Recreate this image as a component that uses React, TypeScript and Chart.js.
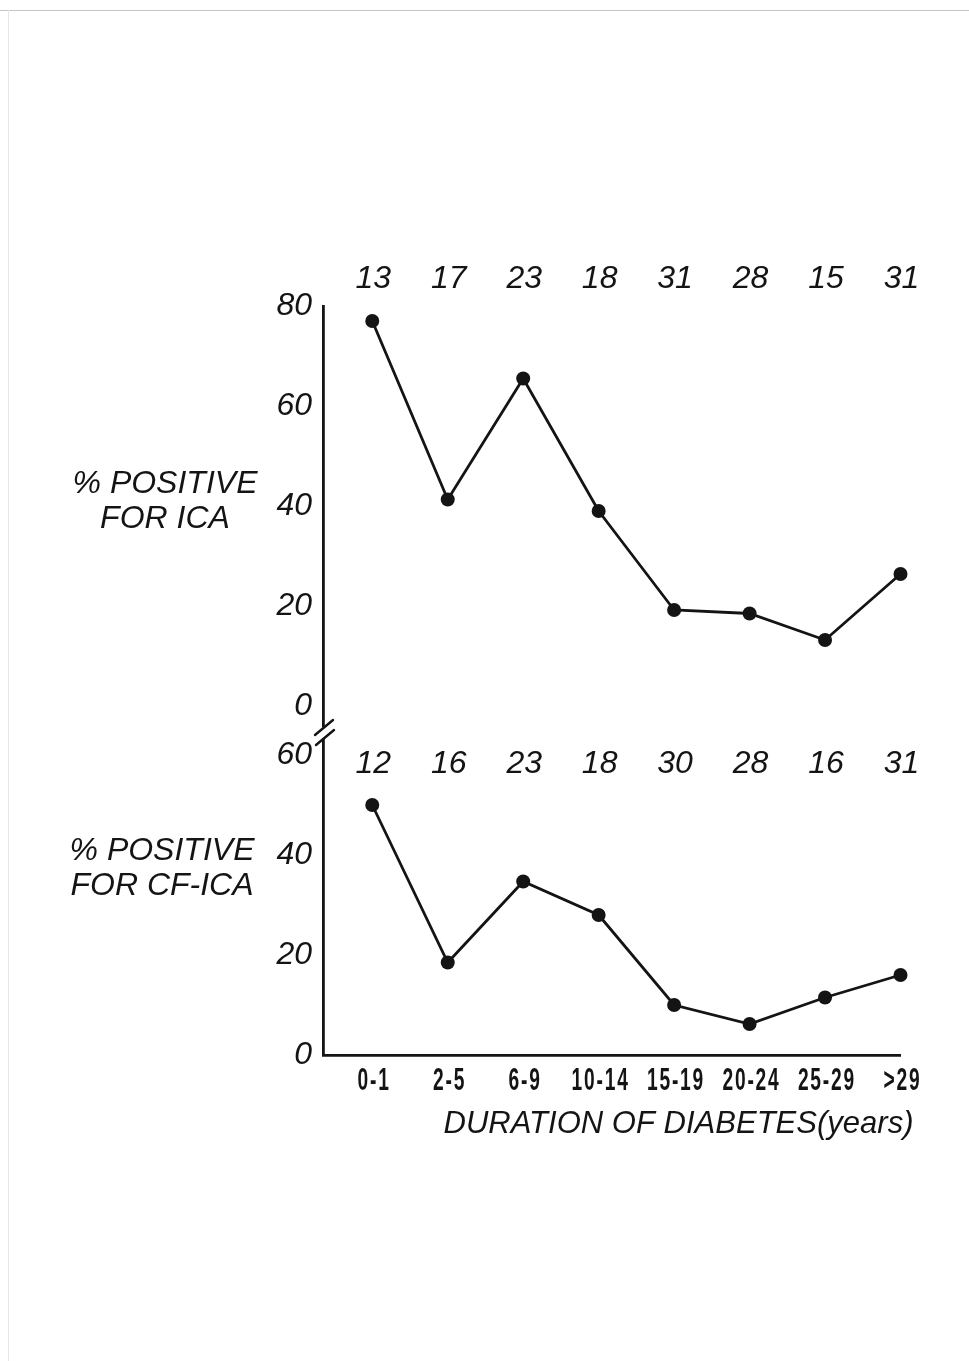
import React, { useEffect, useRef } from "react";
import { Chart, registerables } from "chart.js";

Chart.register(...registerables);

// ---------------- data ----------------
const categories = ["0-1", "2-5", "6-9", "10-14", "15-19", "20-24", "25-29", ">29"];
const icaPositive = [77, 41.3, 65.5, 39, 19.2, 18.5, 13.2, 26.4];
const cfIcaPositive = [50, 18.5, 34.7, 28, 10, 6.2, 11.5, 16];
const icaCounts = [13, 17, 23, 18, 31, 28, 15, 31];
const cfIcaCounts = [12, 16, 23, 18, 30, 28, 16, 31];
const icaTicks = [0, 20, 40, 60, 80];
const cfIcaTicks = [0, 20, 40, 60];
const icaTitle = ["% POSITIVE", "FOR ICA"];
const cfIcaTitle = ["% POSITIVE", "FOR CF-ICA"];
const xTitle = "DURATION OF DIABETES(years)";

// ---------------- style ----------------
const INK = "#141414";
const FONT = "'Liberation Sans', 'DejaVu Sans', sans-serif";
const W = 969;

type Deco = {
  counts: number[];
  countsBaselineDy: number; // relative to chartArea.top
  titleLines: string[];
  titleCenterX: number;
  titleBaselineY: number; // canvas coords of first line baseline
  titleLineGap: number;
  xLabels?: boolean;
  breakMark?: boolean;
};

function makeDecoPlugin(id: string, d: Deco) {
  return {
    id,
    afterDraw(chart: any) {
      const ctx: CanvasRenderingContext2D = chart.ctx;
      const xs = chart.scales.x;
      const area = chart.chartArea;
      ctx.save();
      ctx.fillStyle = INK;
      ctx.strokeStyle = INK;

      // sample sizes above each category
      ctx.font = `italic 32px ${FONT}`;
      ctx.textAlign = "center";
      ctx.textBaseline = "alphabetic";
      d.counts.forEach((n, i) => {
        ctx.fillText(String(n), xs.getPixelForValue(i) + 1, area.top + d.countsBaselineDy);
      });

      // horizontal y-axis title
      d.titleLines.forEach((line, k) => {
        ctx.fillText(line, d.titleCenterX, d.titleBaselineY + k * d.titleLineGap);
      });

      if (d.breakMark) {
        ctx.lineWidth = 2.4;
        ctx.lineCap = "round";
        const L = area.left;
        const B = area.bottom;
        ctx.beginPath();
        ctx.moveTo(L - 8, B + 9);
        ctx.lineTo(L + 10, B - 6);
        ctx.moveTo(L - 7, B + 19);
        ctx.lineTo(L + 11, B + 4);
        ctx.stroke();
      }

      if (d.xLabels) {
        ctx.font = `bold 32px ${FONT}`;
        ctx.textAlign = "center";
        (ctx as any).letterSpacing = "3px";
        categories.forEach((c, i) => {
          ctx.save();
          ctx.translate(xs.getPixelForValue(i) + 1, area.bottom + 35);
          ctx.scale(0.6, 1);
          ctx.fillText(c, 1.5, 0);
          ctx.restore();
        });
        (ctx as any).letterSpacing = "0px";
        ctx.font = `italic 32px ${FONT}`;
        ctx.textAlign = "right";
        ctx.fillText(xTitle, area.right + 13, area.bottom + 78, 470);
      }
      ctx.restore();
    },
  };
}

function lineDataset(values: number[]) {
  return {
    data: values.map((v, i) => ({ x: i, y: v })),
    borderColor: INK,
    backgroundColor: INK,
    borderWidth: 2.8,
    pointRadius: 7,
    pointBackgroundColor: INK,
    pointBorderColor: INK,
    pointBorderWidth: 0,
    tension: 0,
    fill: false,
    clip: false as const,
  };
}

const yTickFont = { family: FONT, size: 32, style: "italic" as const };

function TopChart() {
  const ref = useRef<HTMLCanvasElement>(null);
  useEffect(() => {
    if (!ref.current) return;
    const chart = new Chart(ref.current, {
      type: "line",
      data: { datasets: [lineDataset(icaPositive) as any] },
      options: {
        animation: false,
        responsive: false,
        maintainAspectRatio: false,
        layout: { padding: { top: 306, bottom: 34, left: 0, right: 68.5 } },
        plugins: { legend: { display: false }, tooltip: { enabled: false } },
        scales: {
          x: { type: "linear", min: -0.653, max: 7, display: false },
          y: {
            type: "linear",
            min: -4,
            max: 80,
            afterFit: (s: any) => {
              s.width = 323;
            },
            afterBuildTicks: (s: any) => {
              s.ticks = icaTicks.map((v) => ({ value: v }));
            },
            grid: { display: false, drawTicks: false },
            border: { display: true, color: INK, width: 2.8 },
            ticks: { font: yTickFont, color: INK, padding: 11 },
          },
        },
      },
      plugins: [
        makeDecoPlugin("decoTop", {
          counts: icaCounts,
          countsBaselineDy: -18,
          titleLines: icaTitle,
          titleCenterX: 165,
          titleBaselineY: 493,
          titleLineGap: 35,
          breakMark: true,
        }),
      ],
    });
    return () => chart.destroy();
  }, []);
  return (
    <canvas
      ref={ref}
      width={W}
      height={760}
      style={{ position: "absolute", left: 0, top: 0, width: W, height: 760 }}
    />
  );
}

const BOTTOM_TOP = 690;

function BottomChart() {
  const ref = useRef<HTMLCanvasElement>(null);
  useEffect(() => {
    if (!ref.current) return;
    const chart = new Chart(ref.current, {
      type: "line",
      data: { datasets: [lineDataset(cfIcaPositive) as any] },
      options: {
        animation: false,
        responsive: false,
        maintainAspectRatio: false,
        layout: { padding: { top: 740 - BOTTOM_TOP, bottom: 0, left: 0, right: 68.5 } },
        plugins: { legend: { display: false }, tooltip: { enabled: false } },
        scales: {
          x: {
            type: "linear",
            min: -0.653,
            max: 7,
            afterFit: (s: any) => {
              s.height = 306;
            },
            grid: { display: false, drawTicks: false },
            border: { display: true, color: INK, width: 2.8 },
            ticks: { display: false },
          },
          y: {
            type: "linear",
            min: 0,
            max: 63,
            afterFit: (s: any) => {
              s.width = 323;
            },
            afterBuildTicks: (s: any) => {
              s.ticks = cfIcaTicks.map((v) => ({ value: v }));
            },
            grid: { display: false, drawTicks: false },
            border: { display: true, color: INK, width: 2.8 },
            ticks: { font: yTickFont, color: INK, padding: 11 },
          },
        },
      },
      plugins: [
        makeDecoPlugin("decoBottom", {
          counts: cfIcaCounts,
          countsBaselineDy: 33,
          titleLines: cfIcaTitle,
          titleCenterX: 162,
          titleBaselineY: 860 - BOTTOM_TOP,
          titleLineGap: 35,
          xLabels: true,
        }),
      ],
    });
    return () => chart.destroy();
  }, []);
  return (
    <canvas
      ref={ref}
      width={W}
      height={1361 - BOTTOM_TOP}
      style={{ position: "absolute", left: 0, top: BOTTOM_TOP, width: W, height: 1361 - BOTTOM_TOP }}
    />
  );
}

export default function App() {
  return (
    <div
      style={{
        position: "absolute",
        left: 0,
        top: 0,
        width: W,
        height: 1361,
        background: "#ffffff",
        overflow: "hidden",
      }}
    >
      <div style={{ position: "absolute", left: 0, top: 10, width: W, height: 1, background: "#c4c4c4" }} />
      <div style={{ position: "absolute", left: 8, top: 10, width: 1, height: 1351, background: "#e6e6e6" }} />
      <TopChart />
      <BottomChart />
    </div>
  );
}
